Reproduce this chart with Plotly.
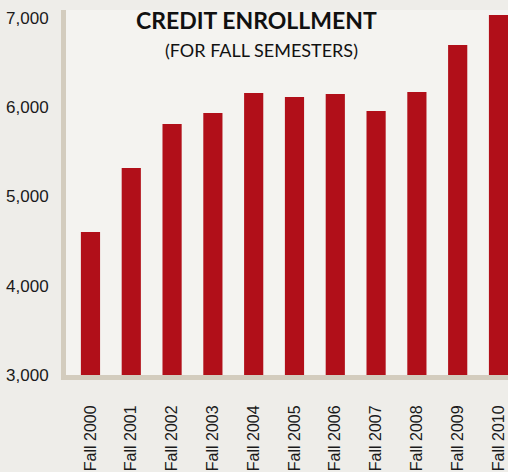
import plotly.graph_objects as go

categories = ["Fall 2000", "Fall 2001", "Fall 2002", "Fall 2003", "Fall 2004", "Fall 2005",
              "Fall 2006", "Fall 2007", "Fall 2008", "Fall 2009", "Fall 2010"]
enrollment = [4602, 5319, 5812, 5936, 6160, 6115, 6148, 5958, 6171, 6697, 7034]
y_ticks = [3000, 4000, 5000, 6000, 7000]
y_tick_labels = ["3,000", "4,000", "5,000", "6,000", "7,000"]

W, H = 508, 472
l, r, t, b = 66, 0, 10, 97
pw, ph = W - l - r, H - t - b

fig = go.Figure(go.Bar(
    x=list(range(len(categories))), y=enrollment,
    marker=dict(color="#b10f19", line=dict(width=0)),
    width=0.47,
    hoverinfo="skip",
))

fig.update_layout(
    width=W, height=H,
    margin=dict(l=l, r=r, t=t, b=b, autoexpand=False),
    paper_bgcolor="#eeede9",
    plot_bgcolor="#f4f3f0",
    showlegend=False,
    font=dict(family="Liberation Sans", color="#1a1a1a"),
    annotations=[
        dict(text="CREDIT ENROLLMENT", xref="paper", yref="paper",
             x=(256 - l) / pw, y=1 - (20 - t) / ph, xanchor="center", yanchor="middle",
             showarrow=False,
             font=dict(family="Lato", size=23, color="#111111", weight=700)),
        dict(text="(FOR FALL SEMESTERS)", xref="paper", yref="paper",
             x=(261 - l) / pw, y=1 - (50 - t) / ph, xanchor="center", yanchor="middle",
             showarrow=False,
             font=dict(family="Lato", size=18, color="#111111")),
    ],
)

fig.update_xaxes(
    range=[-0.6, 10.233], automargin=False,
    tickmode="array", tickvals=list(range(len(categories))), ticktext=categories,
    tickangle=-90, tickfont=dict(family="Liberation Sans", size=16, color="#1a1a1a"),
    showgrid=False, zeroline=False,
    showline=True, linecolor="#d3ccbe", linewidth=5,
    ticks="", ticklabelstandoff=19, ticklabeloverflow="allow",
)
fig.update_yaxes(
    range=[3000, 7090], automargin=False,
    tickmode="array", tickvals=y_ticks, ticktext=y_tick_labels,
    tickfont=dict(family="Liberation Sans", size=17, color="#1a1a1a"),
    showgrid=False, zeroline=False,
    showline=True, linecolor="#d3ccbe", linewidth=5,
    ticks="", ticklabelstandoff=9, ticklabeloverflow="allow",
)

fig.write_html(
    "out.html",
    config={"displayModeBar": False},
    post_script="document.body.style.margin='0';document.body.style.overflow='hidden';document.body.style.background='#eeede9';",
)
